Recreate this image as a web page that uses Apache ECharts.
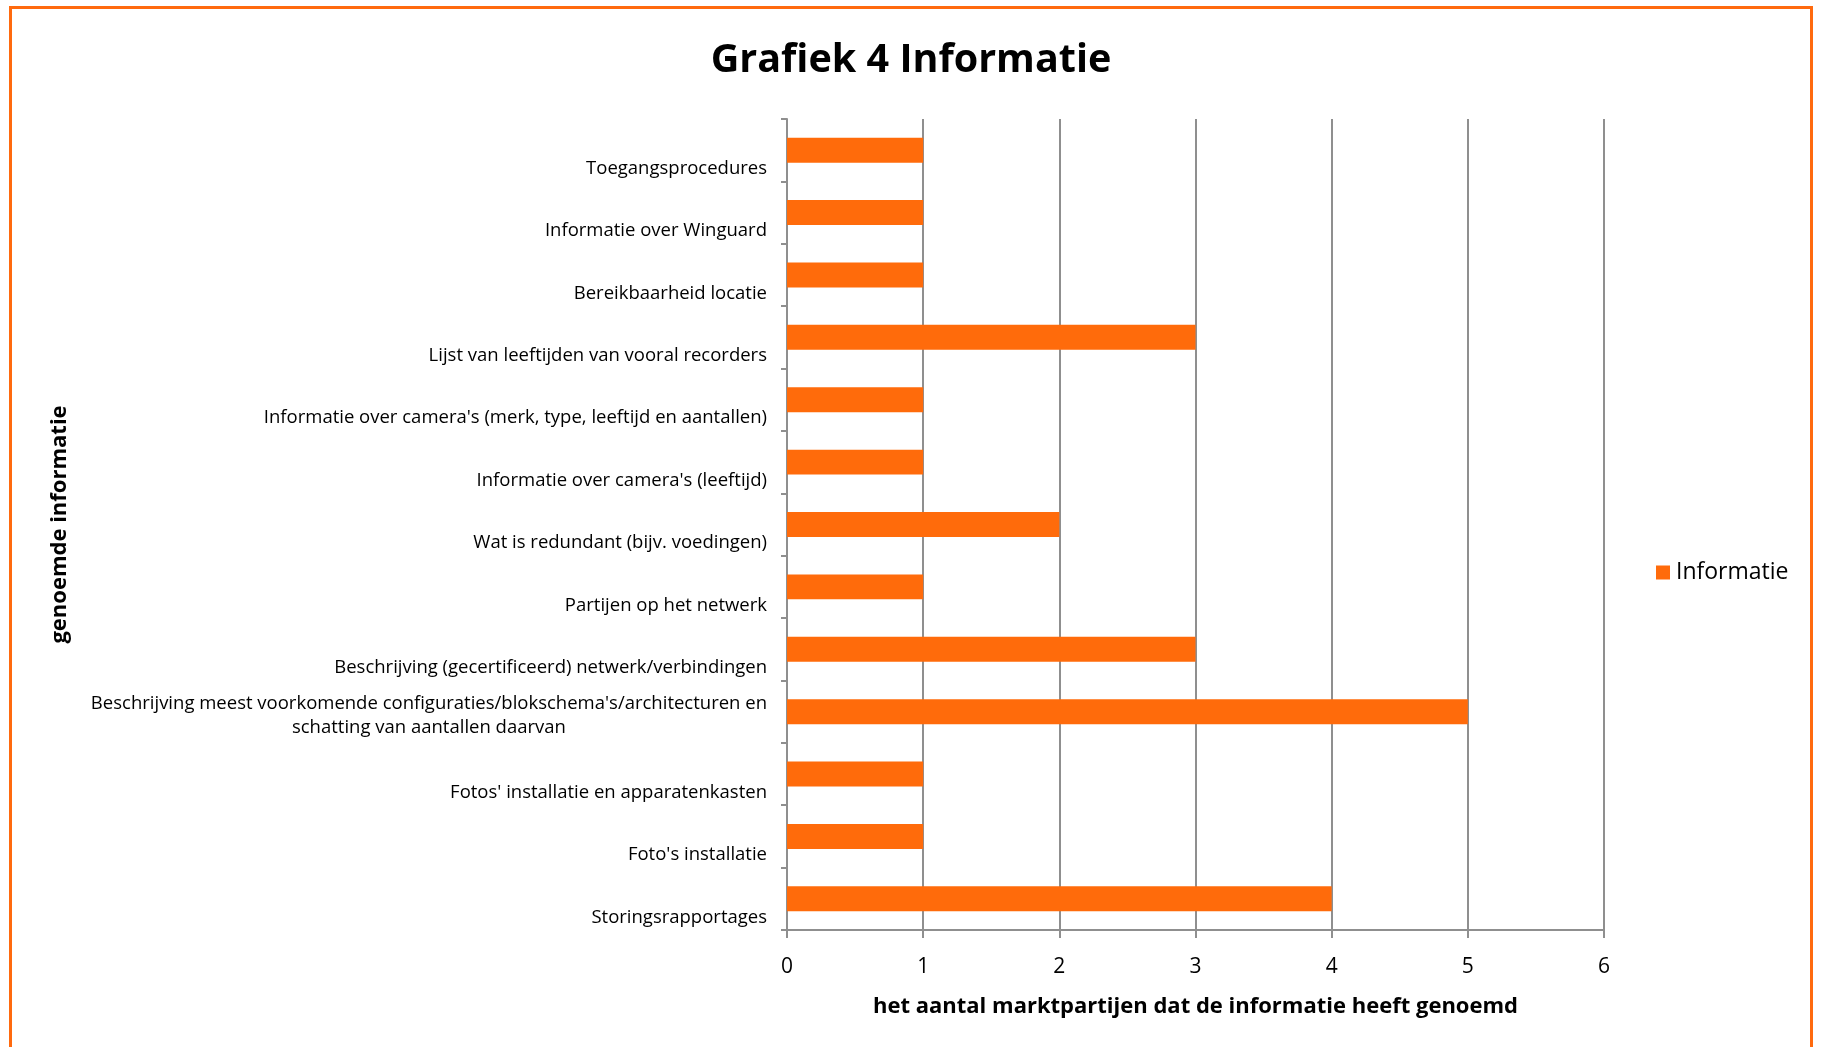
<!DOCTYPE html>
<html>
<head>
<meta charset="utf-8">
<script src="https://cdn.jsdelivr.net/npm/echarts@6/dist/echarts.min.js"></script>
<style>
  html, body { margin: 0; padding: 0; background: #fff; overflow: hidden; }
  #frame {
    position: absolute; left: 9px; top: 6px; width: 1804px; height: 1080px;
    border: 3px solid #ff6a0e; box-sizing: border-box;
  }
  #chart { position: absolute; left: 0; top: 0; width: 1822px; height: 1047px; }
</style>
</head>
<body>
<div id="frame"></div>
<div id="chart"></div>
<script>
// categorieen van boven naar beneden
var categories = [
  'Toegangsprocedures',
  'Informatie over Winguard',
  'Bereikbaarheid locatie',
  'Lijst van leeftijden van vooral recorders',
  "Informatie over camera's (merk, type, leeftijd en aantallen)",
  "Informatie over camera's (leeftijd)",
  'Wat is redundant (bijv. voedingen)',
  'Partijen op het netwerk',
  'Beschrijving (gecertificeerd) netwerk/verbindingen',
  "Beschrijving meest voorkomende configuraties/blokschema's/architecturen en\nschatting van aantallen daarvan",
  "Fotos' installatie en apparatenkasten",
  "Foto's installatie",
  'Storingsrapportages'
]
var values = [1, 1, 1, 3, 1, 1, 2, 1, 3, 5, 1, 1, 4]
var xTicks = [0, 1, 2, 3, 4, 5, 6]

var font = '"Open Sans", "Noto Sans", sans-serif'
var orange = '#ff6b0b'
var gray = '#8f8f8f'
var labelSize = 18.5

var options = {
  animation: false,
  backgroundColor: 'transparent',
  title: {
    text: 'Grafiek 4 Informatie',
    left: 'center',
    top: 36,
    textStyle: { fontFamily: font, fontWeight: 'bold', fontSize: 39.5, color: '#000' }
  },
  legend: {
    data: ['Informatie'],
    left: 1651,
    top: 556,
    orient: 'vertical',
    icon: 'rect',
    itemWidth: 14,
    itemHeight: 14,
    itemGap: 6,
    textStyle: { fontFamily: font, fontSize: 23, color: '#000', padding: [0, 0, 0, 1] }
  },
  grid: { left: 787, right: 1822 - 1604, top: 119, bottom: 1047 - 930, containLabel: false },
  xAxis: {
    type: 'value',
    position: 'bottom',
    min: 0,
    max: 6,
    interval: 1,
    name: 'het aantal marktpartijen dat de informatie heeft genoemd',
    nameLocation: 'middle',
    nameGap: 66,
    nameTextStyle: { fontFamily: font, fontWeight: 'bold', fontSize: 22, color: '#000' },
    axisLine: { show: true, lineStyle: { color: gray, width: 2 } },
    axisTick: { show: true, length: 8, lineStyle: { color: gray, width: 2 } },
    axisLabel: {
      margin: 27,
      fontFamily: font, fontSize: 21, color: '#000',
      formatter: function (v) { return xTicks.indexOf(v) >= 0 ? String(v) : '' }
    },
    splitLine: { show: true, lineStyle: { color: gray, width: 2 } }
  },
  yAxis: {
    type: 'category',
    inverse: true,
    data: categories,
    name: 'genoemde informatie',
    nameLocation: 'middle',
    nameRotate: 90,
    nameGap: 716,
    nameTextStyle: { fontFamily: font, fontWeight: 'bold', fontSize: 22, color: '#000' },
    axisLine: { show: true, lineStyle: { color: gray, width: 2 } },
    axisTick: { show: true, length: 6, alignWithLabel: false, lineStyle: { color: gray, width: 2 } },
    axisLabel: {
      margin: 20,
      interval: 0,
      fontFamily: font,
      fontSize: labelSize,
      color: '#000',
      formatter: function (v) {
        if (v.indexOf('\n') >= 0) {
          var parts = v.split('\n')
          return '{m1|' + parts[0] + '}\n{m2|' + parts[1] + '}'
        }
        return '{s|' + v + '}'
      },
      rich: {
        s: { fontFamily: font, fontSize: labelSize, color: '#000', padding: [37, 0, 0, 0] },
        m1: { fontFamily: font, fontSize: labelSize, color: '#000', align: 'center', lineHeight: 27, padding: [12, 0, 0, 0] },
        m2: { fontFamily: font, fontSize: labelSize, color: '#000', align: 'center', lineHeight: 27, padding: [6, 0, 0, 0] }
      }
    },
    splitLine: { show: false }
  },
  series: [
    {
      name: 'Informatie',
      type: 'bar',
      data: values,
      barWidth: '40%',
      itemStyle: { color: orange }
    }
  ]
}

var myChart = echarts.init(document.getElementById('chart'))
myChart.setOption(options)
</script>
</body>
</html>
